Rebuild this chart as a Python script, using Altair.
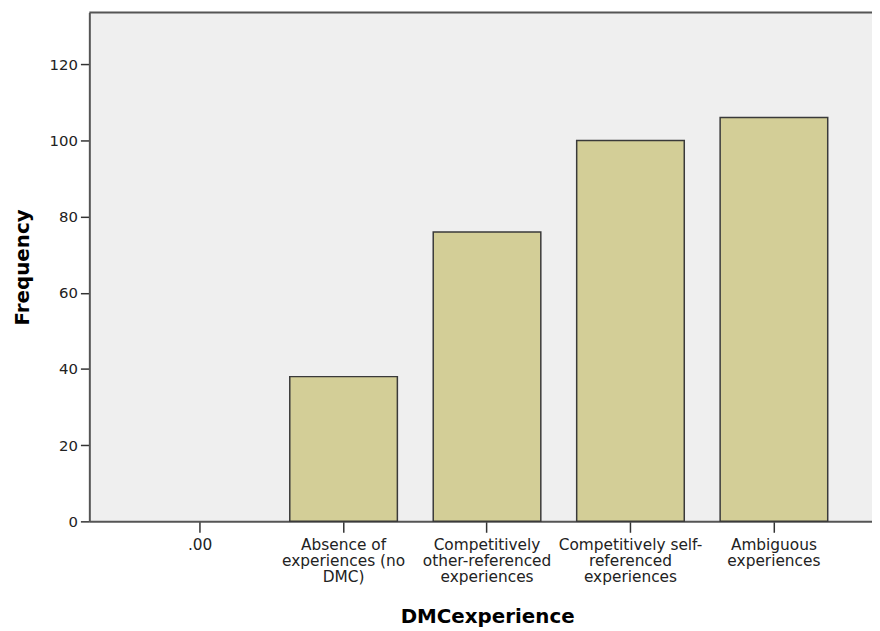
import altair as alt
import pandas as pd

categories = [
    ".00",
    "Absence of|experiences (no|DMC)",
    "Competitively|other-referenced|experiences",
    "Competitively self-|referenced|experiences",
    "Ambiguous|experiences",
]
frequencies = [0, 38, 76, 100, 106]
y_ticks = [0, 20, 40, 60, 80, 100, 120]

df = pd.DataFrame({"DMCexperience": categories, "Frequency": frequencies})

W, H = 789, 513
FONT = "DejaVu Sans"

bars = alt.Chart(df).mark_bar(
    color="#D3CE97", strokeWidth=1.5
).encode(
    x=alt.X(
        "DMCexperience:N",
        sort=categories,
        scale=alt.Scale(range=[0, 800], paddingInner=0.25, paddingOuter=0.391, align=0.508),
        axis=alt.Axis(
            title="DMCexperience",
            titleFont=FONT, titleFontSize=20, titleFontWeight="bold", titleColor="#000",
            titleX=401, titleY=102, titleAlign="center", titleBaseline="alphabetic",
            labelFont=FONT, labelFontSize=15.5, labelColor="#222",
            labelExpr="split(datum.label, '|')", labelLineHeight=16.5,
            labelAngle=0, labelBaseline="top", labelAlign="center", labelPadding=5,
            labelOverlap=False, labelLimit=300,
            tickSize=11, tickColor="#333", tickWidth=1.5,
            domainColor="#555", domainWidth=2, grid=False,
        ),
    ),
    y=alt.Y(
        "Frequency:Q",
        scale=alt.Scale(domain=[0, 133.6], nice=False),
        axis=alt.Axis(
            title="Frequency", values=y_ticks,
            titleFont=FONT, titleFontSize=20, titleFontWeight="bold", titleColor="#000",
            titleX=-61, titleY=256.5, titleAngle=270, titleAlign="center", titleBaseline="alphabetic",
            labelFont=FONT, labelFontSize=15, labelColor="#222", labelPadding=3,
            tickSize=9, tickColor="#333", tickWidth=1.5,
            domainColor="#555", domainWidth=2, grid=False,
        ),
    ),
    stroke=alt.condition("datum.Frequency > 0", alt.value("#3a3a3a"), alt.value("transparent")),
)

frame = alt.Chart(pd.DataFrame({"a": [0]})).mark_rule(color="#555", strokeWidth=2).encode(
    x=alt.value(0), x2=alt.value(W + 20), y=alt.value(0)
)

chart = alt.layer(bars, frame).properties(
    width=W, height=H,
    autosize=alt.AutoSizeParams(type="none"),
    padding={"left": 82, "top": 2, "right": 0, "bottom": 108},
).configure_view(fill="#EFEFEF", stroke=None)

chart.save("out.html", embed_options={"renderer": "svg", "actions": False})
